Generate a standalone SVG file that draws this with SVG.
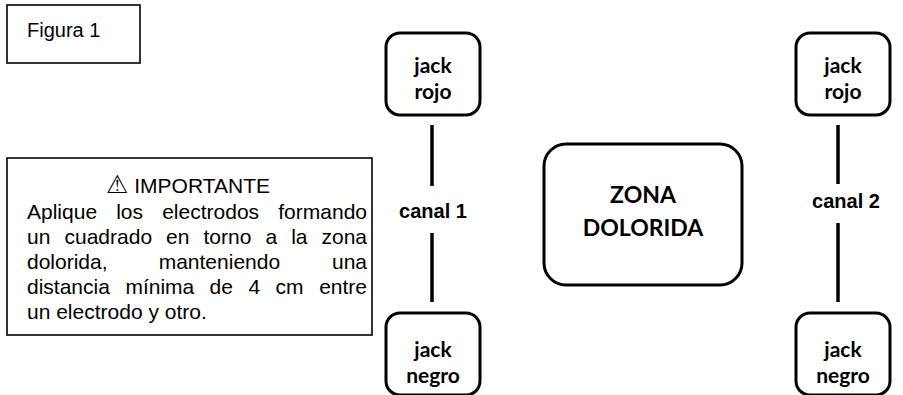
<svg xmlns="http://www.w3.org/2000/svg" width="903" height="395" viewBox="0 0 903 395">
<style>
.box{fill:#fff;stroke:#000;stroke-width:1.6}
.node{fill:#fff;stroke:#000;stroke-width:3}
.conn{stroke:#000;stroke-width:3.5;fill:none}
.note{font-family:"Liberation Sans",Arial,sans-serif;font-size:21px;fill:#000}
.jack{font-family:Lato,"Open Sans",sans-serif;font-weight:bold;font-size:21px;fill:#000;text-anchor:middle}
.zona{font-family:Lato,"Open Sans",sans-serif;font-weight:bold;font-size:23px;fill:#000;text-anchor:middle}
.canal{font-family:"Liberation Sans",Arial,sans-serif;font-weight:bold;font-size:20px;fill:#000;text-anchor:middle}
</style>
<rect width="903" height="395" fill="#fff"/>
<g id="figura">
<rect class="box" x="7" y="5" width="133" height="58"/>
<text class="note" x="27" y="37" style="font-size:20px">Figura 1</text>
</g>
<g id="importante">
<rect class="box" x="7" y="158" width="365" height="177"/>
<text class="note" x="188" y="193" text-anchor="middle"><tspan style="font-family:'DejaVu Sans',sans-serif;font-size:25px">⚠</tspan> IMPORTANTE</text>
<text class="note" y="219"><tspan x="27">Aplique</tspan><tspan x="116.2">los</tspan><tspan x="162.2">electrodos</tspan></text>
<text class="note" x="367" y="219" text-anchor="end">formando</text>
<text class="note" y="244"><tspan x="27">un</tspan><tspan x="64.5">cuadrado</tspan><tspan x="166">en</tspan><tspan x="203.5">torno</tspan><tspan x="265.4">a</tspan><tspan x="291.2">la</tspan></text>
<text class="note" x="367" y="244" text-anchor="end">zona</text>
<text class="note" y="269"><tspan x="27">dolorida,</tspan><tspan x="158.7">manteniendo</tspan></text>
<text class="note" x="367" y="269" text-anchor="end">una</text>
<text class="note" y="294"><tspan x="27">distancia</tspan><tspan x="125.4">mínima</tspan><tspan x="209.6">de</tspan><tspan x="248.5">4</tspan><tspan x="275.6">cm</tspan></text>
<text class="note" x="367" y="294" text-anchor="end">entre</text>
<text class="note" x="27" y="319">un electrodo y otro.</text>
</g>
<g id="connectors">
<line class="conn" x1="432" y1="125" x2="432" y2="186"/>
<line class="conn" x1="432" y1="233" x2="432" y2="302"/>
<line class="conn" x1="838" y1="125" x2="838" y2="184"/>
<line class="conn" x1="838" y1="223" x2="838" y2="302"/>
</g>
<g id="canal1"><text class="canal" x="433" y="218">canal 1</text></g>
<g id="canal2"><text class="canal" x="846" y="208">canal 2</text></g>
<g id="jack-rojo-1">
<rect class="node" x="386" y="33" width="94" height="82" rx="14"/>
<text class="jack" x="433" y="73">jack</text>
<text class="jack" x="433" y="99">rojo</text>
</g>
<g id="jack-negro-1">
<rect class="node" x="386" y="313" width="94" height="82" rx="14"/>
<text class="jack" x="433" y="357">jack</text>
<text class="jack" x="433" y="383">negro</text>
</g>
<g id="zona">
<rect class="node" x="544" y="144" width="198" height="141" rx="22"/>
<text class="zona" x="643" y="203">ZONA</text>
<text class="zona" x="643" y="236">DOLORIDA</text>
</g>
<g id="jack-rojo-2">
<rect class="node" x="796" y="33" width="94" height="82" rx="14"/>
<text class="jack" x="843" y="73">jack</text>
<text class="jack" x="843" y="99">rojo</text>
</g>
<g id="jack-negro-2">
<rect class="node" x="796" y="313" width="94" height="82" rx="14"/>
<text class="jack" x="843" y="357">jack</text>
<text class="jack" x="843" y="383">negro</text>
</g>
</svg>
